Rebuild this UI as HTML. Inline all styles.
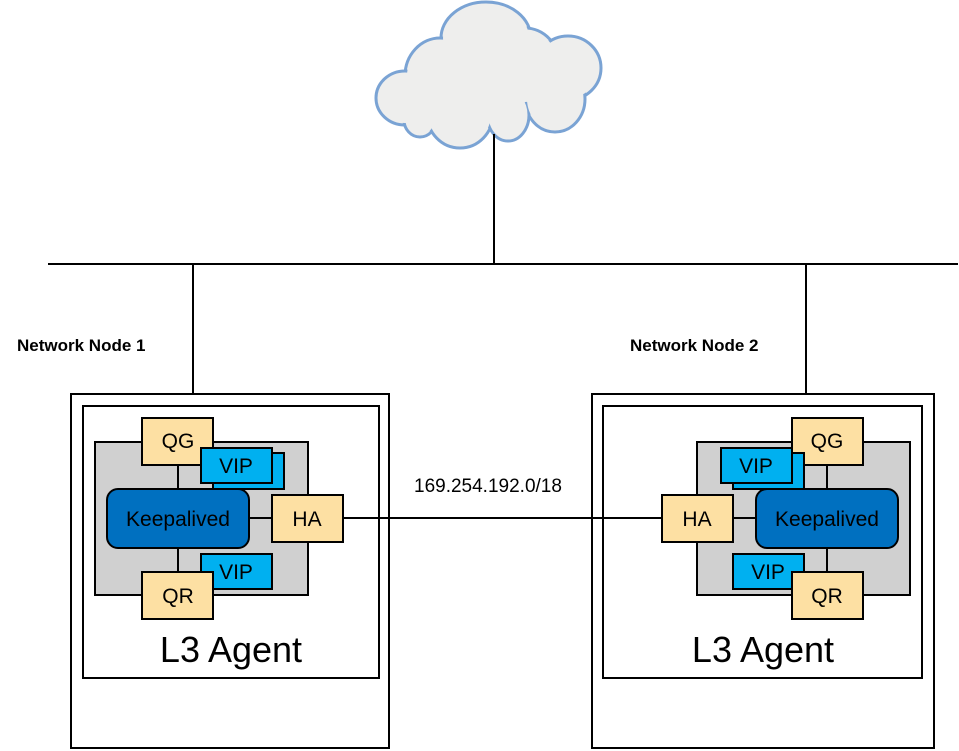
<!DOCTYPE html>
<html><head><meta charset="utf-8"><style>
body{margin:0;background:#fff;}
svg{display:block;font-family:"Liberation Sans",sans-serif;}
</style></head><body>
<svg width="959" height="751" viewBox="0 0 959 751" xmlns="http://www.w3.org/2000/svg">
<!-- cloud -->
<g stroke="#7aa3d4" stroke-width="3" fill="#eeeeed">
<ellipse cx="486" cy="38" rx="45" ry="36"/>
<ellipse cx="440" cy="76" rx="35" ry="38"/>
<ellipse cx="405" cy="98" rx="29" ry="27"/>
<ellipse cx="420" cy="120" rx="16" ry="17"/>
<ellipse cx="460" cy="114" rx="33" ry="34"/>
<ellipse cx="525" cy="66" rx="35" ry="38"/>
<ellipse cx="568" cy="68" rx="33" ry="32"/>
<ellipse cx="555" cy="99" rx="30" ry="33"/>
<ellipse cx="508" cy="115" rx="21" ry="26"/>
</g>
<g fill="#eeeeed">
<ellipse cx="486" cy="38" rx="43" ry="34"/>
<ellipse cx="440" cy="76" rx="33" ry="36"/>
<ellipse cx="405" cy="98" rx="27" ry="25"/>
<ellipse cx="420" cy="120" rx="14" ry="15"/>
<ellipse cx="460" cy="114" rx="31" ry="32"/>
<ellipse cx="525" cy="66" rx="33" ry="36"/>
<ellipse cx="568" cy="68" rx="31" ry="30"/>
<ellipse cx="555" cy="99" rx="28" ry="31"/>
<ellipse cx="508" cy="115" rx="19" ry="24"/>
<ellipse cx="490" cy="85" rx="40" ry="35"/>
</g>
<!-- lines -->
<g stroke="#000" stroke-width="2" fill="none">
<line x1="494" y1="134" x2="494" y2="264"/>
<line x1="48" y1="264" x2="958" y2="264"/>
<line x1="193" y1="264" x2="193" y2="394"/>
<line x1="806" y1="264" x2="806" y2="394"/>
</g>
<text x="17" y="351" font-size="17" font-weight="bold">Network Node 1</text>
<text x="630" y="351" font-size="17" font-weight="bold">Network Node 2</text>
<text x="414" y="492" font-size="19">169.254.192.0/18</text>

<!-- left node -->
<g stroke="#000" stroke-width="2">
<rect x="71" y="394" width="318" height="354" fill="#fff"/>
<rect x="83" y="406" width="296" height="272" fill="#fff"/>
<rect x="95" y="442" width="213" height="153" fill="#d0d0d0"/>
<line x1="178" y1="460" x2="178" y2="580"/>
<line x1="249" y1="518" x2="272" y2="518"/>
<rect x="142" y="418" width="71" height="47" fill="#fde0a3"/>
<rect x="213" y="453" width="71" height="36" fill="#00b0f0"/>
<rect x="201" y="448" width="71" height="35" fill="#00b0f0"/>
<rect x="107" y="489" width="142" height="59" rx="11" fill="#0070c0"/>
<rect x="272" y="495" width="71" height="47" fill="#fde0a3"/>
<rect x="201" y="554" width="71" height="35" fill="#00b0f0"/>
<rect x="142" y="572" width="71" height="47" fill="#fde0a3"/>
</g>
<!-- right node -->
<g stroke="#000" stroke-width="2">
<rect x="592" y="394" width="342" height="354" fill="#fff"/>
<rect x="603" y="406" width="319" height="272" fill="#fff"/>
<rect x="697" y="442" width="213" height="153" fill="#d0d0d0"/>
<line x1="827" y1="460" x2="827" y2="580"/>
<line x1="733" y1="518" x2="756" y2="518"/>
<rect x="792" y="418" width="71" height="47" fill="#fde0a3"/>
<rect x="733" y="453" width="71" height="36" fill="#00b0f0"/>
<rect x="721" y="448" width="71" height="35" fill="#00b0f0"/>
<rect x="756" y="489" width="142" height="59" rx="11" fill="#0070c0"/>
<rect x="662" y="495" width="71" height="47" fill="#fde0a3"/>
<rect x="733" y="554" width="71" height="35" fill="#00b0f0"/>
<rect x="792" y="572" width="71" height="47" fill="#fde0a3"/>
</g>
<line x1="343" y1="518" x2="662" y2="518" stroke="#000" stroke-width="2"/>

<g font-size="21" text-anchor="middle">
<text x="178" y="448">QG</text>
<text x="236" y="473">VIP</text>
<text x="178" y="526">Keepalived</text>
<text x="307" y="526">HA</text>
<text x="236" y="579">VIP</text>
<text x="178" y="603">QR</text>
<text x="231" y="662" font-size="36">L3 Agent</text>
<text x="827" y="448">QG</text>
<text x="756" y="473">VIP</text>
<text x="827" y="526">Keepalived</text>
<text x="697" y="526">HA</text>
<text x="768" y="579">VIP</text>
<text x="827" y="603">QR</text>
<text x="763" y="662" font-size="36">L3 Agent</text>
</g>
</svg>
</body></html>
